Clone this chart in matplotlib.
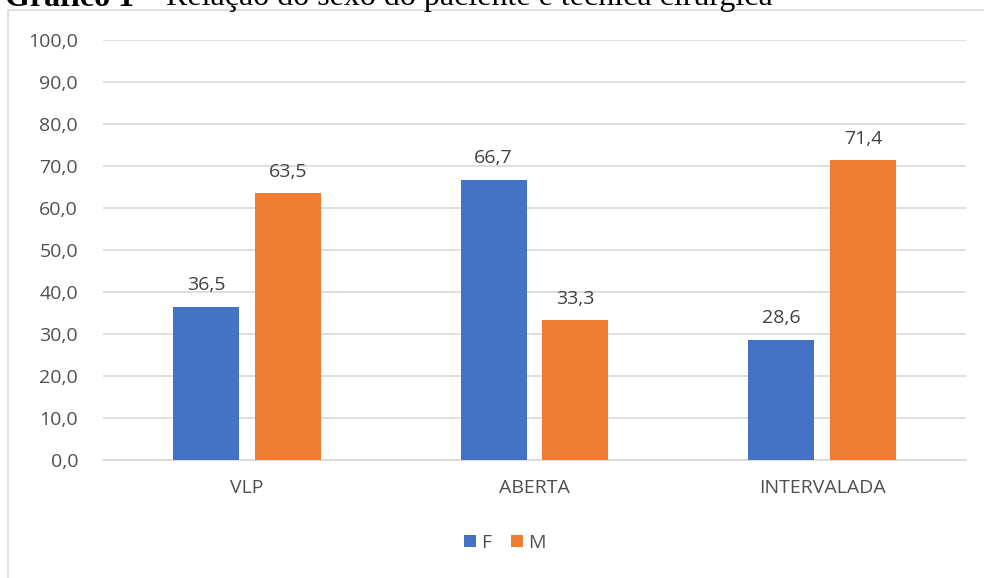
import numpy as np
import matplotlib.pyplot as plt
from matplotlib.patches import Rectangle

# Dados
categorias = ['VLP', 'ABERTA', 'INTERVALADA']
serie_f = [36.5, 66.7, 28.6]
serie_m = [63.5, 33.3, 71.4]
ticks_y = np.arange(0, 101, 10)

azul = '#4472C4'
laranja = '#ED7D31'
cinza_txt = '#505050'
fonte = 'Open Sans'
tam = 14

fig = plt.figure(figsize=(9.84, 5.78), dpi=100)
ax = fig.add_axes([103/984, 118/578, 863/984, 420/578])

# Moldura do gráfico
fig.patches.append(Rectangle((8/984, -0.01), 1.0, (568/578) + 0.01, transform=fig.transFigure,
                             fill=False, edgecolor='#d9d9d9', lw=1.2))

# Título (cortado no topo, como no original)
t1 = fig.text(5/984, 1 - 5.5/578, 'Gráfico 1', fontfamily='Liberation Serif', fontweight='bold',
              fontsize=23, va='baseline', ha='left')
fig.canvas.draw()
fim = t1.get_window_extent().x1 / fig.bbox.width
fig.text(fim, 1 - 5.5/578, ' – Relação do sexo do paciente e técnica cirúrgica',
         fontfamily='Liberation Serif', fontsize=23, va='baseline', ha='left')

x = np.arange(len(categorias))
larg = 0.229
desloc = 0.142

b1 = ax.bar(x - desloc, serie_f, larg, color=azul, label='F', zorder=3)
b2 = ax.bar(x + desloc, serie_m, larg, color=laranja, label='M', zorder=3)

for barras in (b1, b2):
    for b in barras:
        v = b.get_height()
        ax.text(b.get_x() + b.get_width() / 2, v + 3.0, f'{v:.1f}'.replace('.', ','),
                ha='center', va='bottom', fontsize=tam, color='#404040', fontfamily=fonte)

ax.set_xlim(-0.5, 2.5)
ax.set_ylim(0, 100)
ax.set_yticks(ticks_y)
ax.set_yticklabels([f'{t:.1f}'.replace('.', ',') for t in ticks_y], fontfamily=fonte,
                   fontsize=tam, color=cinza_txt)
ax.set_xticks(x)
ax.set_xticklabels(categorias, fontfamily=fonte, fontsize=tam, color=cinza_txt)
ax.tick_params(axis='both', length=0)
ax.tick_params(axis='y', pad=18)
ax.tick_params(axis='x', pad=14)

ax.grid(axis='y', color='#d9d9d9', lw=1.2, zorder=0)
for s in ['top', 'right', 'left']:
    ax.spines[s].set_visible(False)
ax.spines['bottom'].set_color('#d9d9d9')
ax.spines['bottom'].set_linewidth(1.2)

fig.legend(handles=[b1, b2], labels=['F', 'M'], loc='center', bbox_to_anchor=(505/984, 1 - 543/578),
           ncol=2, frameon=False, handlelength=0.6, handleheight=0.6, handletextpad=0.3,
           columnspacing=1.0, prop={'family': fonte, 'size': tam}, labelcolor=cinza_txt)

fig.savefig('out.png', dpi=100)
